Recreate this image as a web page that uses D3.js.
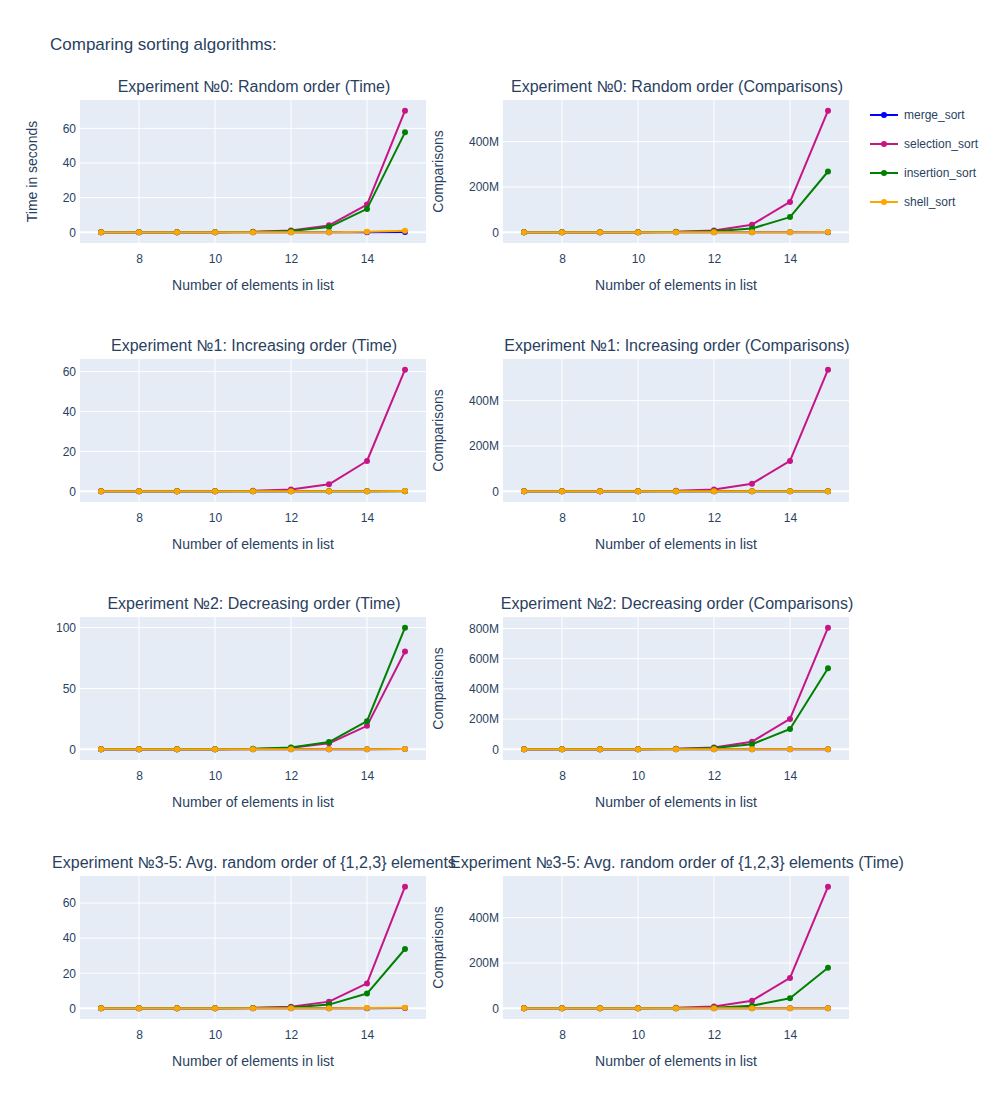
<!DOCTYPE html>
<html>
<head>
<meta charset="utf-8">
<script src="https://cdn.jsdelivr.net/npm/d3@7"></script>
<style>
  body { margin: 0; background: #fff; }
  svg { display: block; font-family: "Liberation Sans", Arial, sans-serif; }
</style>
</head>
<body>
<svg id="chart" width="1000" height="1100"></svg>
<script>
// ---------------- DATA ----------------
const xs = [7, 8, 9, 10, 11, 12, 13, 14, 15];
const algorithms = ["merge_sort", "selection_sort", "insertion_sort", "shell_sort"];

const mainTitle = "Comparing sorting algorithms:";
const subplotTitles = [
  "Experiment №0: Random order (Time)",
  "Experiment №0: Random order (Comparisons)",
  "Experiment №1: Increasing order (Time)",
  "Experiment №1: Increasing order (Comparisons)",
  "Experiment №2: Decreasing order (Time)",
  "Experiment №2: Decreasing order (Comparisons)",
  "Experiment №3-5: Avg. random order of {1,2,3} elements",
  "Experiment №3-5: Avg. random order of {1,2,3} elements (Time)"
];
const xTitle = "Number of elements in list";
const yTitles = ["Time in seconds", "Comparisons", "", "Comparisons", "", "Comparisons", "", "Comparisons"];
const xTicks = [8, 10, 12, 14];
const yTicks = [
  [0, 20, 40, 60],
  [0, 200e6, 400e6],
  [0, 20, 40, 60],
  [0, 200e6, 400e6],
  [0, 50, 100],
  [0, 200e6, 400e6, 600e6, 800e6],
  [0, 20, 40, 60],
  [0, 200e6, 400e6]
];

// Experiment 0: random order
const exp0Time = {
  merge_sort:     [0.0004, 0.001, 0.002, 0.004, 0.009, 0.02, 0.04, 0.09, 0.2],
  selection_sort: [0.001, 0.004, 0.016, 0.065, 0.26, 1.0, 4.0, 16.0, 70.2],
  insertion_sort: [0.001, 0.003, 0.012, 0.05, 0.2, 0.8, 3.0, 13.5, 57.7],
  shell_sort:     [0.0005, 0.001, 0.003, 0.007, 0.016, 0.04, 0.1, 0.25, 0.9]
};
const exp0Comp = {
  merge_sort:     [450, 1030, 2300, 5100, 11300, 24600, 53200, 114000, 244000],
  selection_sort: [8128, 32640, 130816, 523776, 2096128, 8386560, 33550336, 134209536, 536854528],
  insertion_sort: [4100, 16300, 65800, 262500, 1048000, 4190000, 16800000, 67100000, 268400000],
  shell_sort:     [700, 1900, 4800, 11600, 27500, 64000, 150000, 345000, 800000]
};
// Experiment 1: increasing order
const exp1Time = {
  merge_sort:     [0.0003, 0.0007, 0.0015, 0.003, 0.007, 0.015, 0.03, 0.07, 0.15],
  selection_sort: [0.001, 0.004, 0.015, 0.06, 0.23, 0.9, 3.5, 15.2, 61.0],
  insertion_sort: [0.00002, 0.00004, 0.00008, 0.00016, 0.0003, 0.0006, 0.0013, 0.0026, 0.005],
  shell_sort:     [0.0002, 0.0005, 0.001, 0.002, 0.005, 0.01, 0.022, 0.05, 0.1]
};
const exp1Comp = {
  merge_sort:     [448, 1024, 2304, 5120, 11264, 24576, 53248, 114688, 245760],
  selection_sort: [8128, 32640, 130816, 523776, 2096128, 8386560, 33550336, 134209536, 536854528],
  insertion_sort: [127, 255, 511, 1023, 2047, 4095, 8191, 16383, 32767],
  shell_sort:     [600, 1500, 3600, 8400, 19000, 43000, 95000, 210000, 460000]
};
// Experiment 2: decreasing order
const exp2Time = {
  merge_sort:     [0.0003, 0.0007, 0.0015, 0.003, 0.007, 0.015, 0.03, 0.07, 0.15],
  selection_sort: [0.001, 0.005, 0.019, 0.075, 0.3, 1.2, 4.9, 19.3, 80.4],
  insertion_sort: [0.002, 0.006, 0.024, 0.095, 0.38, 1.5, 6.0, 23.1, 100.0],
  shell_sort:     [0.0003, 0.0008, 0.002, 0.004, 0.009, 0.02, 0.045, 0.1, 0.22]
};
const exp2Comp = {
  merge_sort:     [448, 1024, 2304, 5120, 11264, 24576, 53248, 114688, 245760],
  selection_sort: [12192, 48960, 196224, 785664, 3144192, 12579840, 50325504, 201314304, 805281792],
  insertion_sort: [8128, 32640, 130816, 523776, 2096128, 8386560, 33550336, 134209536, 536854528],
  shell_sort:     [800, 2100, 5200, 12500, 29000, 67000, 152000, 340000, 750000]
};
// Experiments 3-5: average over random order of {1,2,3}
const exp3Time = {
  merge_sort:     [0.0004, 0.001, 0.002, 0.004, 0.009, 0.02, 0.04, 0.09, 0.2],
  selection_sort: [0.001, 0.004, 0.015, 0.06, 0.24, 0.95, 3.8, 14.2, 69.3],
  insertion_sort: [0.0005, 0.002, 0.008, 0.03, 0.13, 0.5, 2.1, 8.4, 33.8],
  shell_sort:     [0.0004, 0.001, 0.002, 0.005, 0.011, 0.025, 0.06, 0.13, 0.3]
};
const exp3Comp = {
  merge_sort:     [440, 1010, 2270, 5050, 11100, 24200, 52500, 113000, 242000],
  selection_sort: [8128, 32640, 130816, 523776, 2096128, 8386560, 33550336, 134209536, 536854528],
  insertion_sort: [2700, 10900, 43700, 174700, 699000, 2800000, 11200000, 44700000, 179000000],
  shell_sort:     [650, 1700, 4300, 10200, 24000, 55000, 125000, 280000, 620000]
};

const panels = [exp0Time, exp0Comp, exp1Time, exp1Comp, exp2Time, exp2Comp, exp3Time, exp3Comp];

// ---------------- STYLE / LAYOUT ----------------
const colors = {
  merge_sort: "#0000ff",
  selection_sort: "#c71585",
  insertion_sort: "#008000",
  shell_sort: "#ffa500"
};
const textColor = "#2a3f5f";
const bgColor = "#E5ECF6";
const colX = [80, 503];
const rowY = [100, 359, 617, 876];
const plotW = 346, plotH = 143;
const padX = 21, padY = 10.7;

const svg = d3.select("#chart");

svg.append("text")
  .attr("x", 50).attr("y", 50)
  .attr("fill", textColor)
  .attr("font-size", 17)
  .text(mainTitle);

const fmtComp = d3.format("~s");

panels.forEach((data, i) => {
  const col = i % 2, row = Math.floor(i / 2);
  const left = colX[col], top = rowY[row];
  const g = svg.append("g").attr("transform", `translate(${left},${top})`);

  const x = d3.scaleLinear().domain([7, 15]).range([padX, plotW - padX]);
  const allVals = algorithms.flatMap(a => data[a]);
  const y = d3.scaleLinear()
    .domain([d3.min(allVals), d3.max(allVals)])
    .range([plotH - padY, padY]);

  g.append("rect").attr("width", plotW).attr("height", plotH).attr("fill", bgColor);

  // grid
  g.selectAll(".vg").data(xTicks).join("line")
    .attr("x1", d => x(d)).attr("x2", d => x(d))
    .attr("y1", 0).attr("y2", plotH)
    .attr("stroke", "#fff").attr("stroke-width", 1);
  g.selectAll(".hg").data(yTicks[i]).join("line")
    .attr("x1", 0).attr("x2", plotW)
    .attr("y1", d => y(d)).attr("y2", d => y(d))
    .attr("stroke", "#fff").attr("stroke-width", d => d === 0 ? 2 : 1);

  // axes (labels only)
  const xAxis = g.append("g").attr("transform", `translate(0,${plotH})`)
    .call(d3.axisBottom(x).tickValues(xTicks).tickSize(0).tickPadding(11).tickFormat(d3.format("d")));
  const isComp = col === 1;
  const yAxis = g.append("g")
    .call(d3.axisLeft(y).tickValues(yTicks[i]).tickSize(0).tickPadding(4)
      .tickFormat(d => isComp ? fmtComp(d) : d3.format("d")(d)));
  [xAxis, yAxis].forEach(ax => {
    ax.select(".domain").remove();
    ax.selectAll("text").attr("fill", textColor).attr("font-size", 12)
      .attr("font-family", '"Liberation Sans", Arial, sans-serif');
  });

  // titles
  svg.append("text")
    .attr("x", left + plotW / 2 + 1).attr("y", top - 8)
    .attr("text-anchor", "middle").attr("fill", textColor).attr("font-size", 16)
    .text(subplotTitles[i]);
  svg.append("text")
    .attr("x", left + plotW / 2).attr("y", top + plotH + 47)
    .attr("text-anchor", "middle").attr("fill", textColor).attr("font-size", 14)
    .text(xTitle);
  if (yTitles[i]) {
    const tx = col === 0 ? 37 : 443;
    svg.append("text")
      .attr("transform", `translate(${tx},${top + plotH / 2}) rotate(-90)`)
      .attr("text-anchor", "middle").attr("fill", textColor).attr("font-size", 14)
      .text(yTitles[i]);
  }

  // traces
  const line = d3.line().x((d, k) => x(xs[k])).y(d => y(d));
  algorithms.forEach(a => {
    const tg = g.append("g");
    tg.append("path").datum(data[a])
      .attr("d", line).attr("fill", "none")
      .attr("stroke", colors[a]).attr("stroke-width", 2)
      .attr("stroke-linejoin", "round");
    tg.selectAll("circle").data(data[a]).join("circle")
      .attr("cx", (d, k) => x(xs[k])).attr("cy", d => y(d))
      .attr("r", 3).attr("fill", colors[a]);
  });
});

// legend
const legend = svg.append("g").attr("transform", "translate(870,115)");
algorithms.forEach((a, k) => {
  const lg = legend.append("g").attr("transform", `translate(0,${k * 29})`);
  lg.append("line").attr("x1", 0).attr("x2", 28).attr("y1", 0).attr("y2", 0)
    .attr("stroke", colors[a]).attr("stroke-width", 2);
  lg.append("circle").attr("cx", 14).attr("cy", 0).attr("r", 3).attr("fill", colors[a]);
  lg.append("text").attr("x", 34).attr("y", 4.2)
    .attr("fill", textColor).attr("font-size", 12).text(a);
});
</script>
</body>
</html>
